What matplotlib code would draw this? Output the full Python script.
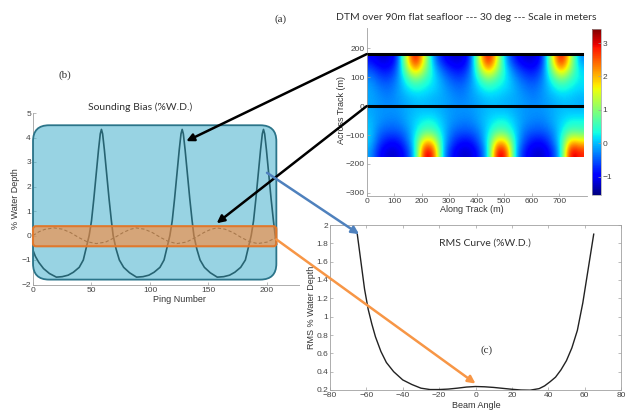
import numpy as np
import matplotlib
matplotlib.use('Agg')
import matplotlib.pyplot as plt
from matplotlib.patches import FancyBboxPatch, ConnectionPatch, Rectangle
from matplotlib.transforms import IdentityTransform

plt.rcParams['font.family'] = ['Liberation Sans', 'DejaVu Sans']

# (b) sounding bias (% water depth) against ping number
ping = [0, 2, 5, 9, 14, 20, 25, 30, 34.5, 39.5, 43, 45.5, 48, 50, 52, 54, 56, 57.5, 58.5, 59.5,
        61, 63, 65, 67, 68.5, 71, 73.8, 77.5, 82.5, 88.5, 94, 99, 103.5, 108.5, 112, 114.5, 117,
        119, 121, 123, 125, 126.5, 127.5, 128.5, 130, 132, 134, 136, 137.5, 140, 142.8, 146.5,
        151.5, 157.5, 163, 168, 172.5, 177.5, 181.5, 184, 186.5, 188.5, 190.5, 192.5, 194.5, 196,
        197, 198, 199.5, 201.5, 203.5, 205.5, 207, 208]
bias = [-0.6, -0.85, -1.1, -1.35, -1.55, -1.7, -1.68, -1.62, -1.5, -1.3, -1.0, -0.5, 0.0, 0.6,
        1.5, 2.5, 3.5, 4.15, 4.33, 4.15, 3.5, 2.5, 1.5, 0.6, 0.0, -0.55, -1.0, -1.3, -1.52, -1.7,
        -1.68, -1.62, -1.5, -1.3, -1.0, -0.5, 0.0, 0.6, 1.5, 2.5, 3.5, 4.15, 4.33, 4.15, 3.5, 2.5,
        1.5, 0.6, 0.0, -0.55, -1.0, -1.3, -1.52, -1.7, -1.68, -1.62, -1.5, -1.3, -1.0, -0.5, 0.0,
        0.6, 1.5, 2.5, 3.5, 4.15, 4.33, 4.15, 3.5, 2.5, 1.5, 0.6, 0.0, -0.35]
ping_dash = [0, 5, 10, 18, 25, 32, 39, 46, 54, 62, 70, 77, 83, 88, 95, 102, 109, 116, 123, 131,
             139, 146, 152, 157, 164, 171, 178, 185, 192, 200, 208]
bias_dash = [0.0, 0.15, 0.25, 0.31, 0.26, 0.12, -0.08, -0.25, -0.33, -0.27, -0.08, 0.12, 0.25,
             0.31, 0.26, 0.12, -0.08, -0.25, -0.33, -0.27, -0.08, 0.12, 0.25, 0.31, 0.26, 0.12,
             -0.08, -0.25, -0.33, -0.27, -0.08]

# (c) RMS curve
beam_angle = [-65, -63, -61, -59, -57, -55, -52, -49, -45, -40, -35, -30, -25, -20, -15, -10, -5,
              0, 5, 10, 15, 20, 25, 30, 35, 38, 41, 44, 47, 50, 53, 56, 59, 61, 63, 65]
rms = [1.9, 1.6, 1.3, 1.08, 0.92, 0.78, 0.62, 0.5, 0.4, 0.31, 0.26, 0.22, 0.205, 0.205, 0.21,
       0.22, 0.232, 0.238, 0.235, 0.228, 0.218, 0.208, 0.2, 0.198, 0.215, 0.245, 0.29, 0.34,
       0.42, 0.52, 0.66, 0.85, 1.15, 1.4, 1.65, 1.9]

# (a) DTM, one along-track period (10 rows top->bottom, 8 columns), it repeats 3 times
dtm_period = np.array([
    [-0.9, -1.2, -1.2, -0.8, 1.5, 3.3, 1.5, -0.3],
    [-0.5, -0.8, -0.9, -0.5, 1.0, 2.3, 1.1, 0.1],
    [-0.2, -0.5, -0.6, -0.3, 0.4, 0.9, 0.5, 0.2],
    [-0.1, -0.3, -0.4, -0.2, 0.1, 0.3, 0.2, 0.1],
    [-0.1, -0.2, -0.3, -0.2, -0.1, 0.0, 0.0, -0.1],
    [-0.1, -0.2, -0.2, -0.2, -0.1, 0.0, 0.0, 0.0],
    [0.0, -0.2, -0.3, -0.3, -0.1, 0.1, 0.3, 0.3],
    [0.1, -0.4, -0.5, -0.5, -0.3, 0.2, 0.7, 0.6],
    [0.1, -0.6, -0.9, -0.9, -0.5, 0.3, 2.1, 1.8],
    [-0.1, -0.9, -1.2, -1.2, -0.8, 0.1, 3.3, 2.8],
])
dtm = np.tile(dtm_period, (1, 3))
dtm_extent = [-5.5, 789, -175, 180]
track_lines_y = [180, 0]
track_end = 783

W, H = 629, 412
fig = plt.figure(figsize=(W / 100, H / 100), dpi=100)


def px_box(x0, y0, x1, y1):
    return [x0 / W, 1 - y1 / H, (x1 - x0) / W, (y1 - y0) / H]


def px_text(x, y, s, **kw):
    kw.setdefault('color', '#333333')
    fig.text(x / W, 1 - y / H, s, ha='center', va='center', **kw)


def style(ax, box=False):
    for s in ax.spines.values():
        s.set_color('#a0a0a0')
        s.set_linewidth(0.6)
    if not box:
        ax.spines['top'].set_visible(False)
        ax.spines['right'].set_visible(False)
    ax.tick_params(direction='in', length=2, width=0.5, colors='#a0a0a0',
                   labelcolor='#444444', labelsize=6, pad=1.5, top=box, right=box)
    ax.set_facecolor('none')


# ---- (a) DTM
ax_a = fig.add_axes(px_box(366.7, 28.1, 586.7, 195.7))
im = ax_a.imshow(dtm, cmap='jet', vmin=-1.55, vmax=3.42, extent=dtm_extent,
                 aspect='auto', interpolation='bicubic')
for yl in track_lines_y:
    ax_a.plot([0, track_end], [yl, yl], color='k', lw=2.2)
ax_a.set_xlim(0, 800)
ax_a.set_ylim(-310, 270)
ax_a.set_xticks(range(0, 800, 100))
ax_a.set_yticks(range(-300, 300, 100))
style(ax_a)

cax = fig.add_axes(px_box(592, 29, 600.7, 195))
cb = fig.colorbar(im, cax=cax)
cb.set_ticks([-1, 0, 1, 2, 3])
cb.outline.set_edgecolor('#a0a0a0')
cb.outline.set_linewidth(0.5)
cax.tick_params(direction='in', length=2, width=0.5, colors='#a0a0a0',
                labelcolor='#444444', labelsize=6, pad=1.5)

# ---- (b) sounding bias
ax_b = fig.add_axes(px_box(33, 113, 325.5, 284.5))
ax_b.plot(ping, bias, color='k', lw=1.2)
ax_b.plot(ping_dash, bias_dash, color='k', lw=0.8, ls=(0, (3, 2)))
ax_b.set_xlim(0, 250)
ax_b.set_ylim(-2, 5)
ax_b.set_xticks([0, 50, 100, 150, 200])
ax_b.set_yticks(range(-2, 6))
style(ax_b)

# white cover where the (c) plot was pasted over (b)
fig.add_artist(Rectangle((300 / W, 0), 329 / W, (H - 214) / H, transform=fig.transFigure,
                         fc='white', ec='none', zorder=0.5))

# ---- (c) RMS curve
ax_c = fig.add_axes(px_box(330, 225, 621, 390))
ax_c.set_zorder(2)
ax_c.plot(beam_angle, rms, color='#222222', lw=1.0)
ax_c.set_xlim(-80, 80)
ax_c.set_ylim(0.2, 2)
ax_c.set_xticks(range(-80, 81, 20))
ax_c.set_yticks(np.arange(0.2, 2.01, 0.2))
ax_c.set_yticklabels(['%g' % round(v, 1) for v in np.arange(0.2, 2.01, 0.2)])
style(ax_c, box=True)

# overlay boxes on (b), in pixels so the corners stay round
(bx0, by0), (bx1, by1) = ax_b.transData.transform([(0, -1.8), (208, 4.5)])
fig.add_artist(FancyBboxPatch((bx0, by0), bx1 - bx0, by1 - by0,
                              boxstyle='round,pad=0,rounding_size=16', transform=IdentityTransform(),
                              fc=(71 / 255, 178 / 255, 205 / 255, 0.56), ec='#2b7489', lw=1.3, zorder=1))
(ox0, oy0), (ox1, oy1) = ax_b.transData.transform([(0, -0.44), (208, 0.38)])
fig.add_artist(FancyBboxPatch((ox0, oy0), ox1 - ox0, oy1 - oy0,
                              boxstyle='round,pad=0,rounding_size=3', transform=IdentityTransform(),
                              fc=(1.0, 0.53, 0.2, 0.6), ec='#e0782c', lw=1.5, zorder=1.1))

# arrows between panels
arrows = [
    ((0, 180), ax_a, (131, 3.85), ax_b, 'k'),
    ((0, 0), ax_a, (157, 0.5), ax_b, 'k'),
    ((200, 2.56), ax_b, (-64, 1.9), ax_c, '#4f81bd'),
    ((208, -0.16), ax_b, (0, 0.27), ax_c, '#f79646'),
]
for xa, axA, xb, axB, col in arrows:
    con = ConnectionPatch(xyA=xa, coordsA=axA.transData, xyB=xb, coordsB=axB.transData,
                          arrowstyle='-|>', mutation_scale=11, lw=1.8, color=col)
    con.set_zorder(5)
    fig.add_artist(con)

# texts
title_font = ['Lato', 'DejaVu Sans']
px_text(466.7, 17, 'DTM over 90m flat seafloor --- 30 deg --- Scale in meters', fontsize=7.5, family=title_font)
px_text(281, 19, '(a)', fontsize=8, family=['Liberation Serif'])
px_text(342, 110, 'Across Track (m)', fontsize=6.5, rotation=90)
px_text(472, 209, 'Along Track (m)', fontsize=6.5)
px_text(65, 75, '(b)', fontsize=8, family=['Liberation Serif'])
px_text(140, 107, 'Sounding Bias (%W.D.)', fontsize=7.5, family=title_font)
px_text(16, 199, '% Water Depth', fontsize=6.5, rotation=90)
px_text(179, 299, 'Ping Number', fontsize=6.5)
px_text(485, 243, 'RMS Curve (%W.D.)', fontsize=7.5, family=title_font)
px_text(311, 307, 'RMS % Water Depth', fontsize=6.5, rotation=90)
px_text(476, 405, 'Beam Angle', fontsize=6.5)
px_text(487, 350, '(c)', fontsize=8, family=['Liberation Serif'])

fig.savefig('out.png', dpi=100)
